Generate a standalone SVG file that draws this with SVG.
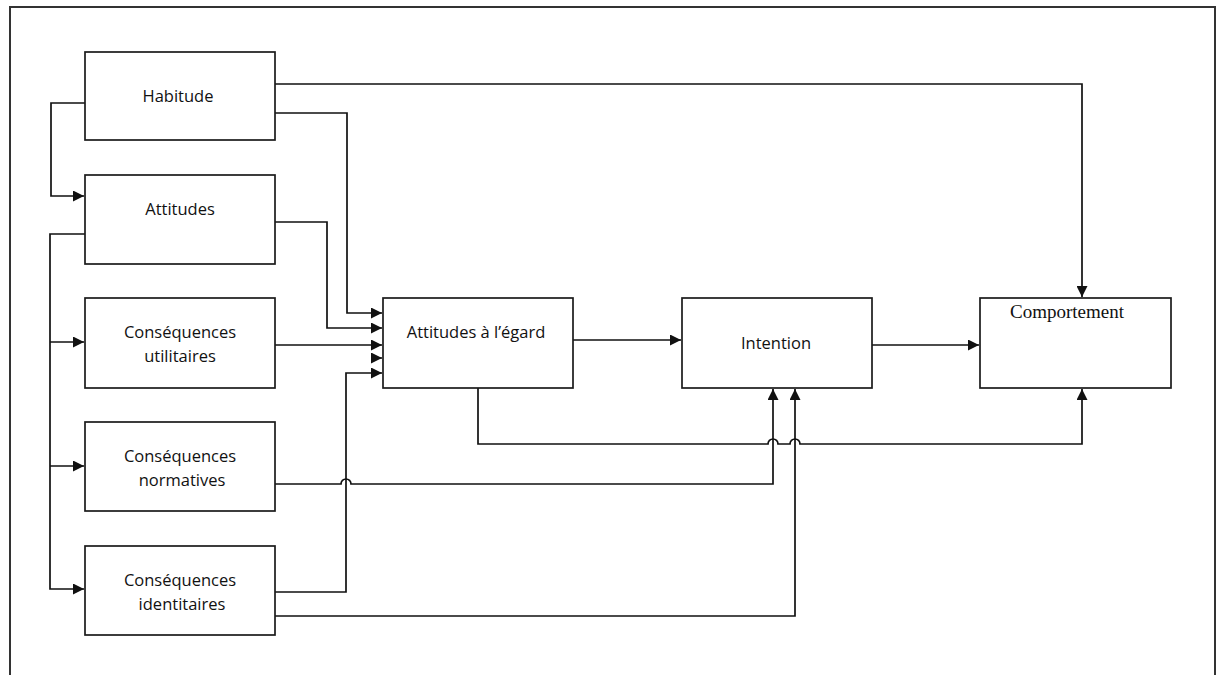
<svg xmlns="http://www.w3.org/2000/svg" width="1223" height="675" viewBox="0 0 1223 675">
<style>
.box{fill:#fff;stroke:#1a1a1a;stroke-width:1.7}
.lbl{font-family:"Open Sans","Noto Sans","DejaVu Sans",sans-serif;font-size:16.5px;fill:#111;text-anchor:middle}
.ser{font-family:"Liberation Serif","Times New Roman",serif;font-size:19px;fill:#111;text-anchor:middle}
.c{fill:none;stroke:#111;stroke-width:1.7}
.frame{fill:none;stroke:#333;stroke-width:2}
</style>
<defs>
<marker id="ah" viewBox="0 0 10 10" refX="10" refY="5" markerWidth="11" markerHeight="11" markerUnits="userSpaceOnUse" orient="auto">
<path d="M0,0 L10,5 L0,10 Z" fill="#111"/>
</marker>
</defs>
<rect width="1223" height="675" fill="#fff"/>
<path class="frame" d="M10,680 V7 H1215 V680"/>
<g id="connectors">
<path class="c" d="M85,103 H51 V196 H84" marker-end="url(#ah)"/>
<path class="c" d="M85,234 H50 V589 H84" marker-end="url(#ah)"/>
<path class="c" d="M50,342 H84" marker-end="url(#ah)"/>
<path class="c" d="M50,466 H84" marker-end="url(#ah)"/>
<path class="c" d="M275,84 H1082 V297" marker-end="url(#ah)"/>
<path class="c" d="M275,113 H347 V313 H382" marker-end="url(#ah)"/>
<path class="c" d="M275,222 H327 V328 H382" marker-end="url(#ah)"/>
<path class="c" d="M275,345 H382" marker-end="url(#ah)"/>
<path class="c" d="M380,358 H382" marker-end="url(#ah)"/>
<path class="c" d="M275,592 H346 V373 H382" marker-end="url(#ah)"/>
<path class="c" d="M275,484 H341 A5,5 0 0 1 351,484 H773 V389" marker-end="url(#ah)"/>
<path class="c" d="M275,616 H795 V389" marker-end="url(#ah)"/>
<path class="c" d="M566,340 H681" marker-end="url(#ah)"/>
<path class="c" d="M872,345 H979" marker-end="url(#ah)"/>
<path class="c" d="M478,388 V444 H768 A5,5 0 0 1 778,444 H790 A5,5 0 0 1 800,444 H1082 V389" marker-end="url(#ah)"/>
</g>
<g id="habitude"><rect class="box" x="85" y="52" width="190" height="88"/><text class="lbl" x="178" y="102">Habitude</text></g>
<g id="attitudes"><rect class="box" x="85" y="175" width="190" height="89"/><text class="lbl" x="180" y="215">Attitudes</text></g>
<g id="utilitaires"><rect class="box" x="85" y="298" width="190" height="90"/><text class="lbl" x="180" y="338">Conséquences</text><text class="lbl" x="180" y="362">utilitaires</text></g>
<g id="normatives"><rect class="box" x="85" y="422" width="190" height="89"/><text class="lbl" x="180" y="462">Conséquences</text><text class="lbl" x="182" y="486">normatives</text></g>
<g id="identitaires"><rect class="box" x="85" y="546" width="190" height="89"/><text class="lbl" x="180" y="586">Conséquences</text><text class="lbl" x="182" y="610">identitaires</text></g>
<g id="attitudes-egard"><rect class="box" x="383" y="298" width="190" height="90"/><text class="lbl" x="476" y="338">Attitudes à l’égard</text></g>
<g id="intention"><rect class="box" x="682" y="298" width="190" height="90"/><text class="lbl" x="776" y="349">Intention</text></g>
<g id="comportement"><rect class="box" x="980" y="298" width="191" height="90"/><text class="ser" x="1067" y="318">Comportement</text></g>
</svg>
